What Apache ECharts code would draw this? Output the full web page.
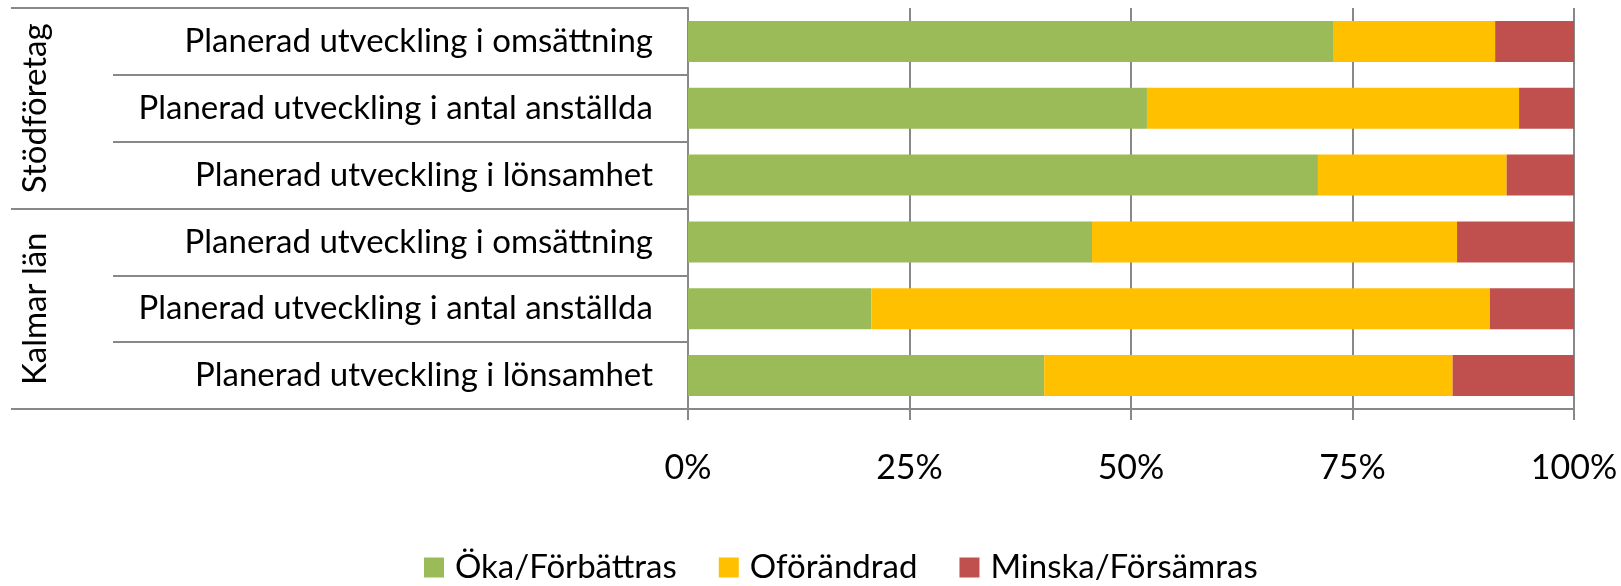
<!DOCTYPE html>
<html>
<head>
<meta charset="utf-8">
<script src="https://cdn.jsdelivr.net/npm/echarts@6/dist/echarts.min.js"></script>
<style>
  html, body { margin: 0; padding: 0; background: #fff; }
  #chart { width: 1621px; height: 586px; }
</style>
</head>
<body>
<div id="chart"></div>
<script>
// rader uppifrån och ned
const categories = [
  'Planerad utveckling i omsättning',
  'Planerad utveckling i antal anställda',
  'Planerad utveckling i lönsamhet',
  'Planerad utveckling i omsättning',
  'Planerad utveckling i antal anställda',
  'Planerad utveckling i lönsamhet'
];
const groups = ['Stödföretag', 'Kalmar län'];
const okaData = [72.8, 51.8, 71.1, 45.6, 20.7, 40.2];
const oforandradData = [18.3, 42.0, 21.3, 41.2, 69.8, 46.1];
const minskaData = [8.9, 6.2, 7.6, 13.2, 9.5, 13.7];

const FONT = 'Lato';
const GRAY = '#888888';

const chart = echarts.init(document.getElementById('chart'));
const option = {
  animation: false,
  textStyle: { fontFamily: FONT, color: '#000' },
  grid: { left: 688, right: 47, top: 8, bottom: 177, containLabel: false },
  legend: {
    left: 419,
    top: 546,
    itemWidth: 20,
    itemHeight: 20,
    itemGap: 42,
    icon: 'rect',
    textStyle: { fontFamily: FONT, fontSize: 33, color: '#000', padding: [0, 0, 0, 6] },
    data: ['Öka/Förbättras', 'Oförändrad', 'Minska/Försämras']
  },
  xAxis: {
    type: 'value',
    min: 0,
    max: 100,
    interval: 25,
    axisLine: { show: true, lineStyle: { color: GRAY, width: 2 } },
    axisTick: { show: true, length: 11, lineStyle: { color: GRAY, width: 2 } },
    splitLine: { show: true, lineStyle: { color: GRAY, width: 2 } },
    axisLabel: { formatter: '{value}%', fontSize: 34, color: '#000', margin: 42, fontFamily: FONT }
  },
  yAxis: [
    {
      type: 'category',
      inverse: true,
      data: categories,
      axisLine: { show: true, lineStyle: { color: GRAY, width: 2 } },
      axisTick: { show: true, interval: 0, length: 575, lineStyle: { color: GRAY, width: 2 } },
      axisLabel: { interval: 0, fontSize: 33, color: '#000', margin: 35, fontFamily: FONT }
    },
    {
      // gruppetiketter, roterade
      type: 'category',
      inverse: true,
      position: 'left',
      data: groups,
      axisLine: { show: false },
      axisTick: { show: true, interval: 0, length: 677, lineStyle: { color: GRAY, width: 2 } },
      axisLabel: {
        interval: 0,
        fontSize: 33,
        color: '#000',
        rotate: 90,
        align: 'center',
        verticalAlign: 'middle',
        margin: 653,
        hideOverlap: false,
        fontFamily: FONT
      }
    }
  ],
  series: [
    {
      name: 'Öka/Förbättras',
      type: 'bar',
      stack: 'total',
      barWidth: 41,
      itemStyle: { color: '#9BBB59' },
      data: okaData
    },
    {
      name: 'Oförändrad',
      type: 'bar',
      stack: 'total',
      barWidth: 41,
      itemStyle: { color: '#FFC000' },
      data: oforandradData
    },
    {
      name: 'Minska/Försämras',
      type: 'bar',
      stack: 'total',
      barWidth: 41,
      itemStyle: { color: '#C0504D' },
      data: minskaData
    }
  ]
};
chart.setOption(option);
</script>
</body>
</html>
